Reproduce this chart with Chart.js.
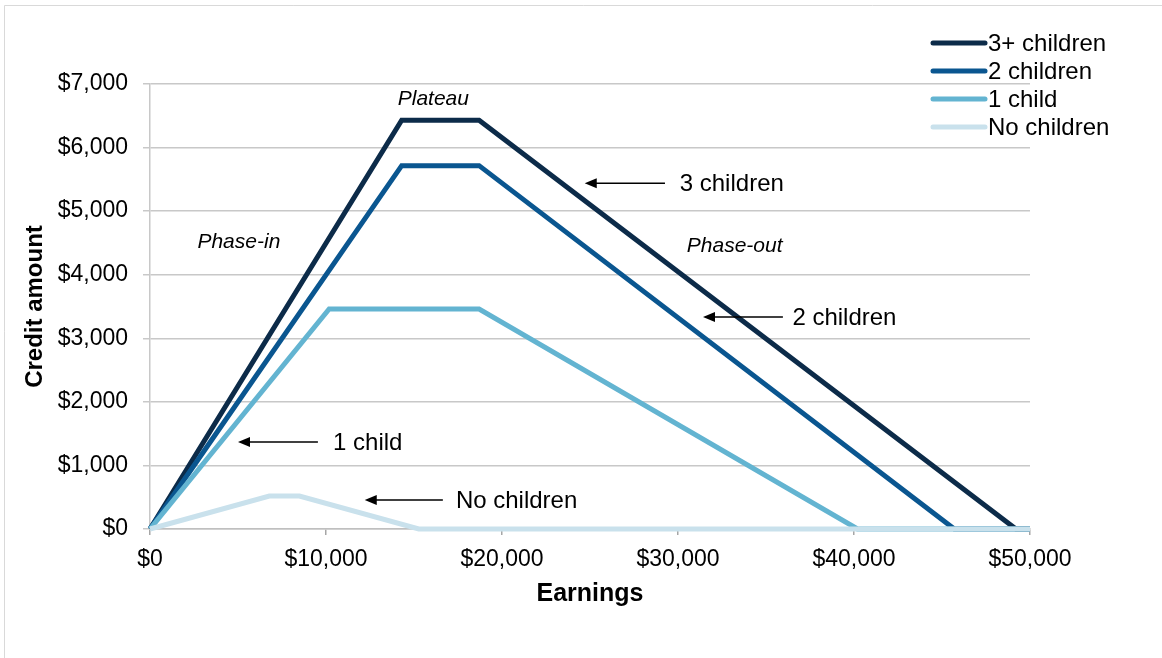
<!DOCTYPE html>
<html>
<head>
<meta charset="utf-8">
<title>EITC by number of children</title>
<script src="https://cdn.jsdelivr.net/npm/chart.js@4.4.1/dist/chart.umd.min.js"></script>
<style>
  html, body { margin: 0; padding: 0; background: #ffffff; }
  canvas { display: block; }
</style>
</head>
<body>
<canvas id="eitc" width="1162" height="658"></canvas>
<script>
// Credit schedules: earnings breakpoints and credit amounts (dollars)
const seriesLabels = ['3+ children', '2 children', '1 child', 'No children'];
const seriesColors = ['#0c2b49', '#0a5690', '#63b4d1', '#c9e1ec'];

const earnings3 = [0, 14300, 18700, 49200, 50000];
const credit3   = [0, 6430, 6430, 0, 0];

const earnings2 = [0, 14300, 18700, 45700, 50000];
const credit2   = [0, 5716, 5716, 0, 0];

const earnings1 = [0, 10180, 18700, 40200, 50000];
const credit1   = [0, 3461, 3461, 0, 0];

const earnings0 = [0, 6780, 8490, 15270, 50000];
const credit0   = [0, 519, 519, 0, 0];

// Axis ranges and ticks
const xTicks = [0, 10000, 20000, 30000, 40000, 50000];
const yTicks = [0, 1000, 2000, 3000, 4000, 5000, 6000, 7000];

// Text notes on the chart, placed in data units (earnings, credit)
const phaseNotes = [
  { text: 'Plateau',   x: 16100, y: 6760 },
  { text: 'Phase-in',  x: 5050,  y: 4515 },
  { text: 'Phase-out', x: 33220, y: 4452 }
];
const arrowNotes = [
  { text: '3 children',  tail: 29260, head: 24700, y: 5440, textX: 30100 },
  { text: '2 children',  tail: 35960, head: 31420, y: 3335, textX: 36500 },
  { text: '1 child',     tail: 9540,  head: 5000,  y: 1370, textX: 10400 },
  { text: 'No children', tail: 16640, head: 12200, y: 456,  textX: 17380 }
];

const FONT = '"Liberation Sans", Arial, Helvetica, sans-serif';
const money = v => '$' + Number(v).toLocaleString('en-US');
const toPoints = (xs, ys) => xs.map((x, i) => ({ x: x, y: ys[i] }));

const allSeries = [
  [earnings3, credit3],
  [earnings2, credit2],
  [earnings1, credit1],
  [earnings0, credit0]
];

const datasets = allSeries.map((s, i) => ({
  label: seriesLabels[i],
  data: toPoints(s[0], s[1]),
  borderColor: seriesColors[i],
  backgroundColor: seriesColors[i],
  borderWidth: 5,
  pointRadius: 0,
  tension: 0,
  borderJoinStyle: 'miter',
  borderCapStyle: 'butt',
  fill: false,
  clip: false,
  order: allSeries.length - i
}));

// White page with a thin frame on the top and left edges
const pageFrame = {
  id: 'pageFrame',
  beforeDraw(chart) {
    const ctx = chart.ctx;
    ctx.save();
    ctx.fillStyle = '#ffffff';
    ctx.fillRect(0, 0, chart.width, chart.height);
    ctx.strokeStyle = '#d9d9d9';
    ctx.lineWidth = 1;
    ctx.beginPath();
    ctx.moveTo(4.5, chart.height);
    ctx.lineTo(4.5, 5.5);
    ctx.lineTo(chart.width, 5.5);
    ctx.stroke();
    ctx.restore();
  }
};

// Legend with long line swatches, stacked in the upper right
const lineLegend = {
  id: 'lineLegend',
  afterDraw(chart) {
    const ctx = chart.ctx;
    ctx.save();
    ctx.font = '24px ' + FONT;
    ctx.textBaseline = 'middle';
    ctx.textAlign = 'left';
    chart.data.datasets.forEach((ds, i) => {
      const y = 43 + i * 28;
      ctx.strokeStyle = ds.borderColor;
      ctx.lineWidth = 5;
      ctx.lineCap = 'round';
      ctx.beginPath();
      ctx.moveTo(933, y);
      ctx.lineTo(985, y);
      ctx.stroke();
      ctx.fillStyle = '#000000';
      ctx.fillText(ds.label, 988, y + 1);
    });
    ctx.restore();
  }
};

// Phase labels and arrow callouts
const callouts = {
  id: 'callouts',
  afterDatasetsDraw(chart) {
    const ctx = chart.ctx;
    const xs = chart.scales.x, ys = chart.scales.y;
    ctx.save();
    ctx.fillStyle = '#000000';
    ctx.textBaseline = 'middle';

    ctx.font = 'italic 21px ' + FONT;
    ctx.textAlign = 'center';
    phaseNotes.forEach(n => {
      ctx.fillText(n.text, xs.getPixelForValue(n.x), ys.getPixelForValue(n.y));
    });

    ctx.font = '24px ' + FONT;
    ctx.textAlign = 'left';
    ctx.strokeStyle = '#000000';
    ctx.lineWidth = 1.5;
    arrowNotes.forEach(n => {
      const y = ys.getPixelForValue(n.y);
      const x1 = xs.getPixelForValue(n.tail);
      const x0 = xs.getPixelForValue(n.head);
      ctx.beginPath();
      ctx.moveTo(x1, y);
      ctx.lineTo(x0 + 8, y);
      ctx.stroke();
      ctx.beginPath();
      ctx.moveTo(x0, y);
      ctx.lineTo(x0 + 12, y - 5);
      ctx.lineTo(x0 + 12, y + 5);
      ctx.closePath();
      ctx.fill();
      ctx.fillText(n.text, xs.getPixelForValue(n.textX), y + 1);
    });
    ctx.restore();
  }
};

new Chart(document.getElementById('eitc'), {
  type: 'line',
  data: { datasets: datasets },
  plugins: [pageFrame, callouts, lineLegend],
  options: {
    responsive: false,
    animation: false,
    devicePixelRatio: 1,
    layout: { padding: { left: 0, right: 132, top: 84, bottom: 0 } },
    plugins: {
      legend: { display: false },
      tooltip: { enabled: false },
      title: { display: false }
    },
    scales: {
      x: {
        type: 'linear',
        min: xTicks[0],
        max: xTicks[xTicks.length - 1],
        afterFit(scale) { scale.height = 129; },
        afterBuildTicks(scale) { scale.ticks = xTicks.map(v => ({ value: v })); },
        grid: {
          drawOnChartArea: false,
          drawTicks: true,
          tickLength: 6,
          color: '#a6a6a6',
          lineWidth: 1.5
        },
        border: { display: true, color: '#bfbfbf', width: 1.5 },
        ticks: {
          padding: 11,
          color: '#000000',
          font: { family: FONT, size: 23 },
          maxRotation: 0,
          callback: v => money(v)
        },
        title: {
          display: true,
          text: 'Earnings',
          color: '#000000',
          font: { family: FONT, size: 25, weight: 'bold' },
          padding: { top: 0, bottom: 49 }
        }
      },
      y: {
        type: 'linear',
        min: yTicks[0],
        max: yTicks[yTicks.length - 1],
        afterFit(scale) { scale.width = 150; },
        afterBuildTicks(scale) { scale.ticks = yTicks.map(v => ({ value: v })); },
        grid: {
          drawOnChartArea: true,
          drawTicks: true,
          tickLength: 7,
          color: '#c8c8c8',
          lineWidth: 1.5
        },
        border: { display: true, color: '#c8c8c8', width: 1.5 },
        ticks: {
          padding: 15,
          color: '#000000',
          font: { family: FONT, size: 23 },
          callback: v => money(v)
        },
        title: {
          display: true,
          text: 'Credit amount',
          color: '#000000',
          font: { family: FONT, size: 24, weight: 'bold' },
          padding: { top: 21, bottom: 0 }
        }
      }
    }
  }
});
</script>
</body>
</html>
